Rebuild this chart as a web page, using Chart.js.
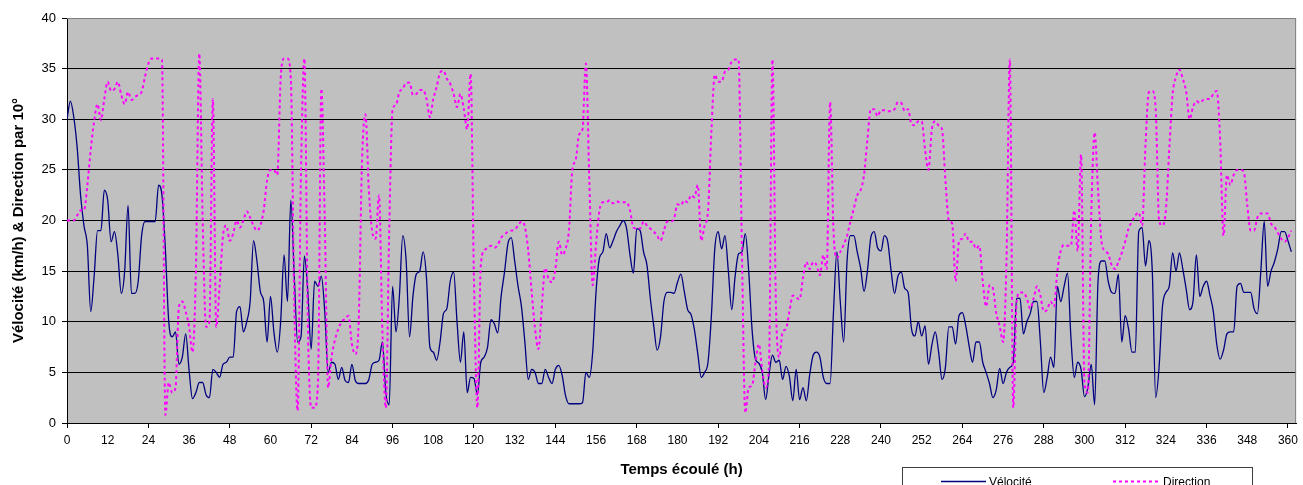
<!DOCTYPE html>
<html>
<head>
<meta charset="utf-8">
<script src="https://cdn.jsdelivr.net/npm/chart.js@4"></script>
<style>
  html, body { margin: 0; padding: 0; background: #fff; }
</style>
</head>
<body>
<canvas id="chart" width="1303" height="485"></canvas>
<script>
// tick labels of the time axis (h)
const xTicks = [0, 12, 24, 36, 48, 60, 72, 84, 96, 108, 120, 132, 144, 156, 168, 180,
  192, 204, 216, 228, 240, 252, 264, 276, 288, 300, 312, 324, 336, 348, 360];

// velocity (km/h), one value per hour, 0..361
const velocite = [
  30, 31.8, 30.2, 27.2, 22.5, 19.5, 17.5, 11, 14.5, 19, 19, 23,
  22, 17.9, 18.9, 16.6, 12.8, 15, 21.5, 12.8, 12.8, 14, 18.5, 19.9,
  19.9, 19.9, 19.9, 23.5, 22.5, 17.2, 10, 8.5, 9, 5.8, 6.5, 8.8,
  5.2, 2.4, 3, 4, 4, 2.8, 2.5, 5.3, 5, 4.5, 5.8, 6,
  6.5, 6.5, 11, 11.5, 9, 10, 12, 18, 16, 13, 12, 8,
  12.5, 9, 7, 10, 16.6, 12, 22, 14.6, 8, 8.5, 16.5, 13,
  7.3, 14, 13.5, 14.5, 11, 5, 6, 5.8, 4.3, 5.5, 4.2, 4,
  5.8, 4.2, 3.9, 3.9, 3.9, 4.3, 5.8, 6, 6.2, 8, 3, 1.8,
  13.5, 9, 12.5, 18.5, 16, 8.5, 12.5, 14.7, 15, 16.9, 14.3, 7.5,
  7, 6.2, 8, 10.8, 11.3, 14, 14.9, 10, 6, 9, 3, 4.5,
  4.4, 2.8, 6, 6.5, 7.5, 10.2, 9.8, 8.9, 12.5, 14.9, 17.7, 18.3,
  16, 13.5, 11.5, 8, 4.3, 5.3, 5, 3.9, 3.9, 5.3, 4.5, 3.9,
  5.3, 5.7, 4.7, 2.7, 1.9, 1.9, 1.9, 1.9, 2, 5, 4.5, 7,
  13, 16.3, 16.9, 18.7, 17.3, 18, 18.9, 19.5, 20, 19.2, 16.6, 14.8,
  19.2, 19, 16.9, 15.6, 12.3, 9.6, 7.2, 8.5, 12, 12.9, 12.9, 12.8,
  13.9, 14.7, 13, 11.2, 10.7, 9.2, 6.8, 4.5, 5, 6, 10.6, 17.2,
  18.9, 17.2, 18.5, 15, 11.2, 14.5, 16.7, 16.9, 18.7, 15, 9.2, 6.3,
  5.9, 5, 2.3, 4.8, 6.7, 6, 6.2, 4.3, 5.6, 4.6, 2.2, 5.3,
  2.3, 3.5, 2.2, 4.8, 6.7, 7, 6.5, 4.5, 3.9, 3.9, 11, 16.9,
  12, 8, 16, 18.5, 18.5, 16.9, 15.3, 13, 15, 18.3, 18.9, 17.3,
  17, 18.5, 17.9, 15, 12.8, 14.5, 14.9, 13.3, 12.9, 9.3, 8.6, 10,
  8.6, 9.6, 5.8, 7.7, 9, 7, 4.3, 5.5, 9.5, 9.5, 7.8, 10.6,
  10.9, 9.6, 7.6, 6, 8, 8, 6, 5, 3.9, 2.5, 3.3, 5.4,
  3.9, 5, 5.5, 6, 12.3, 12.3, 8.8, 10, 10.8, 12, 12, 8,
  3, 4.5, 6.5, 5.5, 13.5, 12, 13.5, 14.8, 8.5, 4.5, 6, 5.3,
  2.6, 3.5, 5.8, 1.8, 14, 16, 16, 14, 12.9, 12.8, 14.7, 8,
  10.6, 9.3, 7, 7, 18.9, 19.3, 15.5, 18, 15, 2.5, 5.5, 11.5,
  12.9, 13.5, 16.8, 15, 16.8, 15.2, 13.2, 11.2, 12, 16.6, 12.5, 13.5,
  14, 12.6, 11, 7.8, 6.3, 7.2, 8.8, 9, 9, 13.5, 13.8, 12.9,
  12.9, 12.9, 11.3, 10.8, 15, 19.9, 13.5, 15, 15.9, 17.2, 18.9, 18.9,
  18, 16.9
];

// wind direction (tens of degrees), one value per hour, 0..361
const direction = [
  20, 20, 20, 20.5, 21, 21, 23.5, 27, 29.8, 31.5, 29.9, 32,
  33.7, 32.8, 33, 33.7, 32.4, 31.5, 32.7, 31.9, 32.2, 32.4, 32.7, 34.2,
  35.5, 36, 36, 36, 35.9, 0.8, 4, 3, 3.5, 11.5, 12, 11,
  9.5, 7, 15, 36.5, 20, 9.5, 10, 32, 9.5, 13.5, 18.5, 19.5,
  18, 18.7, 20, 19.3, 20, 20.9, 20.3, 19.5, 19, 19.5, 21, 24,
  25, 25, 24.5, 34, 36, 36, 34, 12, 1.2, 25, 36, 10,
  1.5, 1.5, 4, 33, 20, 3.5, 6.5, 8.2, 9.3, 10, 10.3, 10.6,
  7.8, 6.8, 10, 26, 30.5, 23, 18.9, 18.2, 22.5, 9, 1.5, 19,
  31, 31.4, 32.7, 33, 33.6, 33.6, 32.4, 32.5, 32.9, 32.9, 32, 30.2,
  32, 33.2, 34.6, 34.8, 34, 33.5, 32.5, 31.2, 32.5, 31, 29, 34.5,
  14, 1.5, 15.5, 17, 17.3, 17.5, 17.3, 17.6, 18.3, 18.6, 18.9, 19,
  19.1, 19.5, 19.9, 19.4, 17, 13, 9.3, 7.3, 11.5, 15.3, 14.2, 13.9,
  15.2, 17.9, 16.6, 17.2, 19, 25, 26, 28.5, 29, 35.5, 24, 13.6,
  17.7, 21, 21.8, 21.8, 22, 21.7, 21.9, 21.8, 21.8, 21.8, 21, 19.3,
  19.2, 19.2, 19.9, 19.5, 19.2, 18.9, 18.5, 18, 19, 19.9, 19.9, 20.2,
  21.6, 21.5, 22, 21.8, 22.5, 22.3, 23.5, 18, 19.5, 20.9, 28.8, 34.4,
  33.7, 33.7, 34.7, 34.9, 35.7, 35.9, 35.9, 17, 1, 3.5, 3.7, 6,
  7.8, 5.2, 3.5, 6, 35.9, 12, 6.5, 9, 9.3, 11, 12.6, 12.4,
  12.2, 14.3, 15.9, 15.2, 15.9, 15.6, 14.6, 16.6, 15.2, 31.7, 19, 16.3,
  16.9, 17.6, 18.5, 19.9, 21.2, 22.5, 23, 24.5, 28, 31, 31, 30.3,
  30.9, 30.9, 30.8, 30.8, 31, 31.7, 31.6, 30.8, 31, 29.5, 29.4, 29.8,
  29.8, 27, 25, 29, 29.8, 29.4, 29, 24, 20, 19.7, 14, 17.9,
  18.2, 18.7, 17.9, 17.9, 17.2, 17.5, 14, 11.5, 13.6, 13.3, 10.8, 9.6,
  8, 16, 35.9, 1.5, 12, 12.9, 12.9, 12.3, 11.3, 12.3, 13.5, 12.6,
  11, 11.2, 12, 11.5, 15, 17, 17.6, 17.5, 17.5, 21, 17, 26.5,
  4, 3, 20.5, 28.7, 23, 18, 17, 16.7, 15.6, 15.2, 15.9, 16.8,
  17.9, 19.2, 19.9, 20.5, 20.8, 19.5, 27.5, 32.7, 32.8, 31, 20, 19.5,
  21, 27, 32.5, 34.2, 34.9, 34, 32.7, 30, 31.2, 31.8, 31.6, 31.9,
  32, 32, 32.5, 32.8, 28, 18.5, 24.5, 23.5, 24.5, 25, 25, 24.8,
  21.5, 19, 19, 20.3, 20.7, 20.7, 20.7, 19.7, 19.4, 18.8, 18.2, 17.9,
  18.3, 19
];

const FONT = "'Liberation Sans', Arial, sans-serif";

// gray plot area like the original spreadsheet chart
const plotArea = {
  id: "plotArea",
  beforeDraw(chart) {
    const { ctx, chartArea: a } = chart;
    ctx.save();
    ctx.fillStyle = "#c0c0c0";
    ctx.fillRect(a.left, a.top, a.right - a.left, a.bottom - a.top);
    ctx.restore();
  },
  afterDraw(chart) {
    const { ctx, chartArea: a } = chart;
    ctx.save();
    ctx.strokeStyle = "#808080";
    ctx.lineWidth = 1;
    ctx.beginPath();
    ctx.moveTo(a.left, a.top + 0.5);
    ctx.lineTo(a.right - 0.5, a.top + 0.5);
    ctx.lineTo(a.right - 0.5, a.bottom);
    ctx.stroke();
    ctx.restore();
  }
};

// boxed legend at the bottom right
const boxLegend = {
  id: "boxLegend",
  afterDraw(chart) {
    const ctx = chart.ctx;
    const ds = chart.data.datasets;
    ctx.save();
    ctx.fillStyle = "#fff";
    ctx.fillRect(902, 467.5, 351, 30);
    ctx.strokeStyle = "#404040";
    ctx.lineWidth = 1;
    ctx.strokeRect(902.5, 467.5, 350, 30);

    ctx.font = "12px " + FONT;
    ctx.textBaseline = "alphabetic";
    ctx.fillStyle = "#000";

    ctx.strokeStyle = ds[0].borderColor;
    ctx.lineWidth = ds[0].borderWidth;
    ctx.beginPath();
    ctx.moveTo(941, 481.5);
    ctx.lineTo(986, 481.5);
    ctx.stroke();
    ctx.fillText(ds[0].label, 989, 486);

    ctx.strokeStyle = ds[1].borderColor;
    ctx.lineWidth = ds[1].borderWidth;
    ctx.setLineDash(ds[1].borderDash);
    ctx.beginPath();
    ctx.moveTo(1113, 481.5);
    ctx.lineTo(1158, 481.5);
    ctx.stroke();
    ctx.setLineDash([]);
    ctx.fillText(ds[1].label, 1163, 486);
    ctx.restore();
  }
};

const ctx = document.getElementById("chart").getContext("2d");
const myChart = new Chart(ctx, {
  type: "line",
  data: {
    datasets: [
      {
        label: "Vélocité",
        data: velocite.map((v, i) => ({ x: i, y: v })),
        borderColor: "#000080",
        borderWidth: 1.3,
        pointRadius: 0,
        cubicInterpolationMode: "monotone",
        order: 2
      },
      {
        label: "Direction",
        data: direction.map((v, i) => ({ x: i, y: v })),
        borderColor: "#ff00ff",
        borderWidth: 2,
        borderDash: [3, 3],
        pointRadius: 0,
        cubicInterpolationMode: "monotone",
        order: 1
      }
    ]
  },
  options: {
    responsive: false,
    animation: false,
    layout: { padding: { top: 18, right: 5, left: 0, bottom: 0 } },
    plugins: {
      legend: { display: false },
      tooltip: { enabled: false }
    },
    scales: {
      x: {
        type: "linear",
        min: 0,
        max: 362.4,
        afterBuildTicks: s => { s.ticks = xTicks.map(v => ({ value: v })); },
        afterFit: s => { s.height = 62; },
        grid: {
          drawOnChartArea: false,
          tickLength: 5,
          tickColor: c => (c.tick && c.tick.value % 24 === 0 ? "#000" : "rgba(0,0,0,0)")
        },
        border: { color: "#000", width: 1 },
        ticks: {
          color: "#000",
          font: { family: FONT, size: 12 },
          autoSkip: false,
          maxRotation: 0,
          padding: 5
        },
        title: {
          display: true,
          text: "Temps écoulé (h)",
          color: "#000",
          font: { family: FONT, size: 15, weight: "bold" },
          padding: { top: 0, bottom: 6 }
        }
      },
      y: {
        min: 0,
        max: 40,
        afterFit: s => { s.width = 67; },
        grid: {
          color: c => (c.tick && c.tick.value === 40 ? "#808080" : "#000"),
          tickColor: "#000",
          tickLength: 5,
          lineWidth: 1
        },
        border: { color: "#000", width: 1 },
        ticks: {
          stepSize: 5,
          color: "#000",
          font: { family: FONT, size: 13 },
          padding: 6
        },
        title: {
          display: true,
          text: "Vélocité (km/h) & Direction par 10°",
          color: "#000",
          font: { family: FONT, size: 15, weight: "bold" },
          padding: { top: 10, bottom: 0 }
        }
      }
    }
  },
  plugins: [plotArea, boxLegend]
});
</script>
</body>
</html>
